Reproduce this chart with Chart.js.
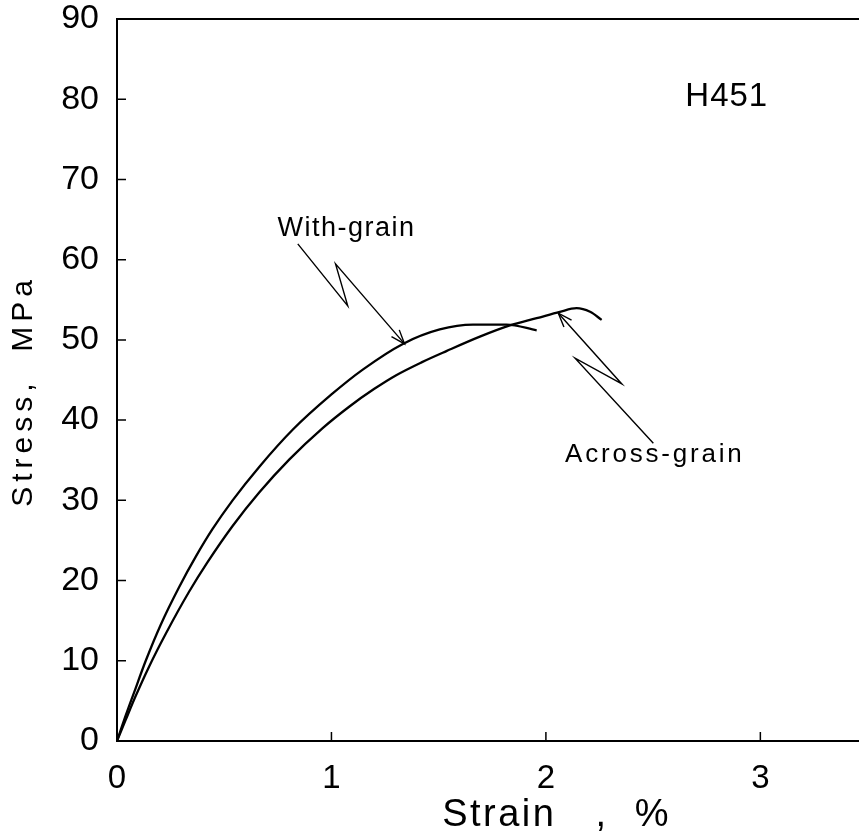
<!DOCTYPE html>
<html><head><meta charset="utf-8">
<script src="https://cdn.jsdelivr.net/npm/chart.js@4/dist/chart.umd.min.js"></script>
<style>html,body{margin:0;padding:0;background:#fff;} #wrap{width:859px;height:840px;position:relative;}</style>
</head><body><div id="wrap"><canvas id="c" width="859" height="840"></canvas></div>
<script>
// ---- data ----
const withGrainStrain = [0, 0.033, 0.079, 0.134, 0.204, 0.29, 0.37, 0.445, 0.539, 0.664, 0.819, 1.0, 1.146, 1.333, 1.505, 1.66, 1.816, 1.957];
const withGrainStress = [0, 2.6, 6.0, 10.0, 14.5, 19.2, 23.1, 26.4, 30.0, 34.2, 38.8, 43.2, 46.3, 49.5, 51.3, 51.9, 51.9, 51.2];
const acrossGrainStrain = [0, 0.04, 0.087, 0.15, 0.228, 0.336, 0.42, 0.539, 0.664, 0.804, 0.959, 1.084, 1.2, 1.302, 1.42, 1.536, 1.692, 1.832, 1.957, 2.065, 2.143, 2.206, 2.26];
const acrossGrainStress = [0, 2.6, 5.6, 9.3, 13.4, 18.6, 22.2, 26.8, 31.0, 35.1, 39.0, 41.7, 43.9, 45.6, 47.2, 48.6, 50.4, 51.8, 52.7, 53.5, 53.95, 53.5, 52.5];
const xTickValues = [0, 1, 2, 3];
const yTickValues = [0, 10, 20, 30, 40, 50, 60, 70, 80, 90];
const xAxisTitle = 'Strain   ,  %';
const yAxisTitle = 'Stress,  MPa';
const specimenLabel = 'H451';
const withGrainLabel = 'With-grain';
const acrossGrainLabel = 'Across-grain';
// label anchors (strain, stress) and leader polylines in data units
const withGrainLabelAt = [0.748, 62.95];
const acrossGrainLabelAt = [2.089, 34.78];
const specimenLabelAt = [2.65, 79.16];
const withGrainLeader = [[0.843, 61.97], [1.076, 54.24], [1.019, 59.48], [1.341, 49.5]];
const acrossGrainLeader = [[2.501, 37.12], [2.136, 47.72], [2.354, 44.51], [2.058, 53.33]];

const FONT = '"Liberation Sans", Arial, sans-serif';

const framePlugin = {
  id: 'frame',
  afterDraw(chart) {
    const ctx = chart.ctx;
    const xs = chart.scales.x, ys = chart.scales.y;
    const a = chart.chartArea;
    ctx.save();
    ctx.strokeStyle = '#000';
    ctx.lineCap = 'butt';
    // axes: left, bottom, top
    ctx.lineWidth = 2;
    ctx.beginPath();
    ctx.moveTo(a.left, a.top); ctx.lineTo(a.left, a.bottom);
    ctx.moveTo(a.left - 1, a.bottom); ctx.lineTo(a.right, a.bottom);
    ctx.moveTo(a.left - 1, a.top); ctx.lineTo(a.right, a.top);
    ctx.stroke();
    // inward ticks
    ctx.lineWidth = 1.5;
    ctx.beginPath();
    yTickValues.forEach(v => {
      if (v === 0 || v === 90) return;
      const y = ys.getPixelForValue(v);
      ctx.moveTo(a.left, y); ctx.lineTo(a.left + 9, y);
    });
    xTickValues.forEach(v => {
      if (v === 0) return;
      const x = xs.getPixelForValue(v);
      ctx.moveTo(x, a.bottom); ctx.lineTo(x, a.bottom - 9);
    });
    ctx.stroke();

    // axis titles
    ctx.fillStyle = '#000';
    ctx.textBaseline = 'middle';
    ctx.textAlign = 'center';
    ctx.font = '38px ' + FONT;
    ctx.letterSpacing = '2.5px';
    ctx.fillText(xAxisTitle, xs.getPixelForValue(2.05), 816);
    ctx.save();
    ctx.translate(24, (a.top + a.bottom) / 2 + 11);
    ctx.rotate(-Math.PI / 2);
    ctx.font = '30px ' + FONT;
    ctx.letterSpacing = '5px';
    ctx.fillText(yAxisTitle, 0, 0);
    ctx.restore();

    // annotation texts
    ctx.textAlign = 'left';
    ctx.textBaseline = 'alphabetic';
    const txt = (s, at, size, ls) => {
      ctx.font = size + 'px ' + FONT;
      ctx.letterSpacing = ls + 'px';
      ctx.fillText(s, xs.getPixelForValue(at[0]), ys.getPixelForValue(at[1]));
    };
    txt(withGrainLabel, withGrainLabelAt, 27, 1.5);
    txt(acrossGrainLabel, acrossGrainLabelAt, 26, 2.8);
    txt(specimenLabel, specimenLabelAt, 33, 1);
    ctx.letterSpacing = '0px';

    // leaders with open arrow heads
    const leader = (pts) => {
      const p = pts.map(q => [xs.getPixelForValue(q[0]), ys.getPixelForValue(q[1])]);
      ctx.lineWidth = 1.4;
      ctx.lineJoin = 'miter';
      ctx.beginPath();
      ctx.moveTo(p[0][0], p[0][1]);
      for (let i = 1; i < p.length; i++) ctx.lineTo(p[i][0], p[i][1]);
      ctx.stroke();
      const t = p[p.length - 1], b = p[p.length - 2];
      const ang = Math.atan2(b[1] - t[1], b[0] - t[0]);
      const L = 15, da = 20 * Math.PI / 180;
      ctx.beginPath();
      ctx.moveTo(t[0] + L * Math.cos(ang - da), t[1] + L * Math.sin(ang - da));
      ctx.lineTo(t[0], t[1]);
      ctx.lineTo(t[0] + L * Math.cos(ang + da), t[1] + L * Math.sin(ang + da));
      ctx.stroke();
    };
    leader(withGrainLeader);
    leader(acrossGrainLeader);
    ctx.restore();
  }
};

const toPts = (xsArr, ysArr) => xsArr.map((x, i) => ({x: x, y: ysArr[i]}));

new Chart(document.getElementById('c'), {
  type: 'scatter',
  data: {
    datasets: [
      {label: 'With-grain', data: toPts(withGrainStrain, withGrainStress), showLine: true,
       borderColor: '#000', borderWidth: 2.3, pointRadius: 0, cubicInterpolationMode: 'monotone', fill: false},
      {label: 'Across-grain', data: toPts(acrossGrainStrain, acrossGrainStress), showLine: true,
       borderColor: '#000', borderWidth: 2.3, pointRadius: 0, cubicInterpolationMode: 'monotone', fill: false}
    ]
  },
  options: {
    responsive: false,
    animation: false,
    devicePixelRatio: 1,
    layout: {padding: {top: 19, right: 0, left: 0, bottom: 0}},
    plugins: {legend: {display: false}, tooltip: {enabled: false}},
    scales: {
      x: {
        type: 'linear', min: 0, max: 3.46,
        afterBuildTicks: s => { s.ticks = xTickValues.map(v => ({value: v})); },
        afterFit: s => { s.height = 99; s.paddingLeft = 0; s.paddingRight = 0; },
        grid: {display: false, drawTicks: false},
        border: {display: false},
        ticks: {padding: 18, color: '#000', font: {family: FONT, size: 33}, maxRotation: 0, autoSkip: false}
      },
      y: {
        type: 'linear', min: 0, max: 90,
        afterBuildTicks: s => { s.ticks = yTickValues.map(v => ({value: v})); },
        afterFit: s => { s.width = 117; s.paddingTop = 0; s.paddingBottom = 0; },
        grid: {display: false, drawTicks: false},
        border: {display: false},
        ticks: {padding: 18, color: '#000', font: {family: FONT, size: 34}, autoSkip: false}
      }
    }
  },
  plugins: [framePlugin]
});
</script></body></html>
